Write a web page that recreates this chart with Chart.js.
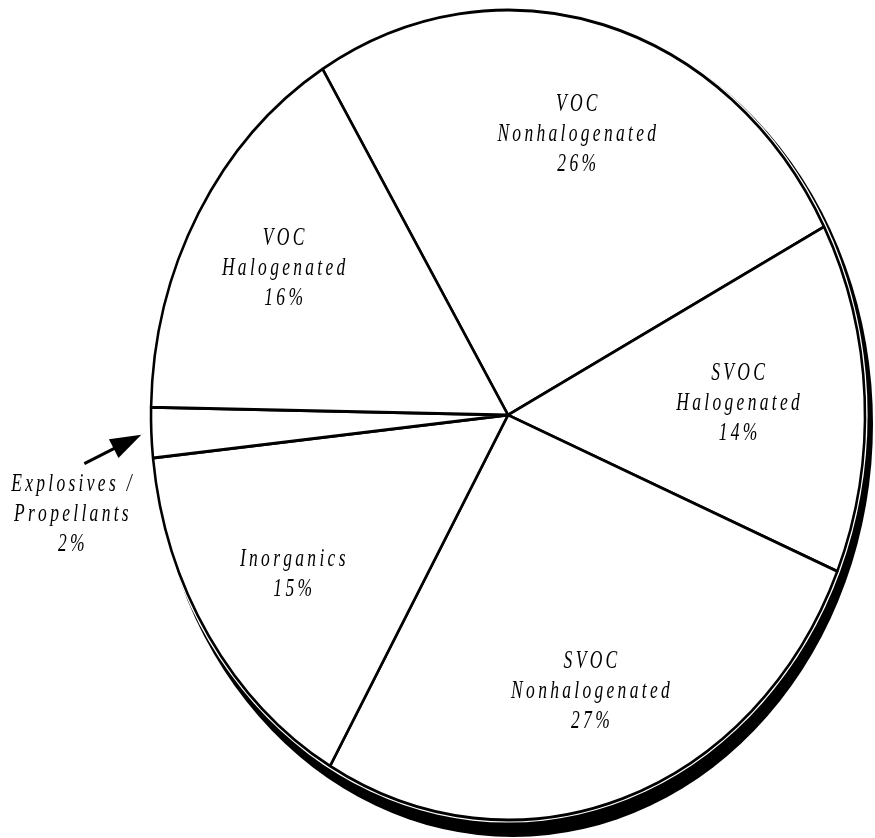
<!DOCTYPE html>
<html><head><meta charset="utf-8">
<script src="https://cdn.jsdelivr.net/npm/chart.js@4.4.0/dist/chart.umd.min.js"></script>
<style>html,body{margin:0;padding:0;background:#fff;overflow:hidden}#wrap{position:relative;width:875px;height:838px}</style>
</head><body><div id="wrap"><canvas id="c" width="875" height="838"></canvas></div>
<script>
// ---- data ----
const categories = [
  ['VOC', 'Nonhalogenated'],
  ['SVOC', 'Halogenated'],
  ['SVOC', 'Nonhalogenated'],
  ['Inorganics'],
  ['Explosives /', 'Propellants'],
  ['VOC', 'Halogenated']
];
const shares = [26, 14, 27, 15, 2, 16];
const percentLabels = shares.map(v => v + '%');

// ---- layout / style ----
const ELLIPSE = {cx: 508, cy: 415, rx: 357, ry: 405};
const SHADOW = {dx: 5, dy: 9, ex: 3, ey: 8};
const insideFrac = [0.72, 0.645, 0.72, 0.72, 1, 0.725];
const TEXT = {size: 25, squeeze: 0.7, track: 3.3, lineGap: 30, color: '#000'};

function geom(chart) {
  const arc = chart.getDatasetMeta(0).data[0];
  const R = arc.outerRadius;
  return {x0: arc.x, y0: arc.y, R: R, sx: ELLIPSE.rx / R, sy: ELLIPSE.ry / R};
}
function toPx(ang, f) {
  return {x: ELLIPSE.cx + ELLIPSE.rx * f * Math.cos(ang), y: ELLIPSE.cy + ELLIPSE.ry * f * Math.sin(ang)};
}
function drawSpaced(ctx, text, x, y) {
  ctx.save();
  ctx.font = 'italic ' + TEXT.size + 'px "Liberation Serif", "DejaVu Serif", serif';
  ctx.textBaseline = 'middle';
  ctx.textAlign = 'left';
  ctx.fillStyle = TEXT.color;
  const chars = [...text];
  const widths = chars.map(c => ctx.measureText(c).width * TEXT.squeeze);
  const total = widths.reduce((a, b) => a + b, 0) + TEXT.track * (chars.length - 1);
  let px = x - total / 2;
  chars.forEach((c, i) => {
    ctx.save(); ctx.translate(px, y); ctx.scale(TEXT.squeeze, 1); ctx.fillText(c, 0, 0); ctx.restore();
    px += widths[i] + TEXT.track;
  });
  ctx.restore();
}
function drawBlock(ctx, lines, x, yc) {
  const n = lines.length;
  lines.forEach((t, i) => drawSpaced(ctx, t, x, yc + (i - (n - 1) / 2) * TEXT.lineGap));
}

const ellipsePlugin = {
  id: 'ellipsePie',
  beforeDatasetsDraw(chart) {
    const ctx = chart.ctx;
    const g = geom(chart);
    ctx.save();
    ctx.fillStyle = '#000';
    ctx.beginPath();
    ctx.ellipse(ELLIPSE.cx + SHADOW.dx, ELLIPSE.cy + SHADOW.dy, ELLIPSE.rx + SHADOW.ex, ELLIPSE.ry + SHADOW.ey, 0, 0, Math.PI * 2);
    ctx.fill();
    ctx.fillStyle = '#fff';
    ctx.beginPath();
    ctx.ellipse(ELLIPSE.cx, ELLIPSE.cy, ELLIPSE.rx + 2.6, ELLIPSE.ry + 2.6, 0, 0, Math.PI * 2);
    ctx.fill();
    ctx.restore();
    ctx.save();
    ctx.translate(ELLIPSE.cx, ELLIPSE.cy);
    ctx.scale(g.sx, g.sy);
    ctx.translate(-g.x0, -g.y0);
  },
  afterDatasetsDraw(chart) {
    const ctx = chart.ctx;
    ctx.restore();
    const meta = chart.getDatasetMeta(0);
    meta.data.forEach((arc, i) => {
      const mid = (arc.startAngle + arc.endAngle) / 2;
      const lines = categories[i].concat([percentLabels[i]]);
      if (shares[i] >= 5) {
        const p = toPx(mid, insideFrac[i]);
        drawBlock(ctx, lines, p.x, p.y);
      } else {
        const P = toPx(mid, 1);
        const tip = {x: P.x - 10, y: P.y + 2};
        const tail = {x: P.x - 67, y: P.y + 31};
        const dx = tip.x - tail.x, dy = tip.y - tail.y;
        const L = Math.hypot(dx, dy), ux = dx / L, uy = dy / L;
        const hl = 31, hw = 10.5;
        const bx = tip.x - ux * hl, by = tip.y - uy * hl;
        ctx.save();
        ctx.strokeStyle = '#000'; ctx.fillStyle = '#000'; ctx.lineWidth = 3;
        ctx.beginPath(); ctx.moveTo(tail.x, tail.y); ctx.lineTo(bx + ux * 4, by + uy * 4); ctx.stroke();
        ctx.beginPath();
        ctx.moveTo(tip.x, tip.y);
        ctx.lineTo(bx - uy * hw, by + ux * hw);
        ctx.lineTo(bx + uy * hw, by - ux * hw);
        ctx.closePath(); ctx.fill();
        ctx.restore();
        drawBlock(ctx, lines, P.x - 80, P.y + 82);
      }
    });
  }
};

new Chart(document.getElementById('c'), {
  type: 'pie',
  data: {
    labels: categories.map(c => c.join(' ')),
    datasets: [{
      data: shares,
      backgroundColor: '#ffffff',
      borderColor: '#000000',
      borderWidth: 3,
      hoverOffset: 0,
      offset: 0,
      clip: false
    }]
  },
  options: {
    responsive: false,
    animation: false,
    events: [],
    rotation: -31.3,
    layout: {padding: 0},
    plugins: {legend: {display: false}, tooltip: {enabled: false}}
  },
  plugins: [ellipsePlugin]
});
</script>
</body></html>
